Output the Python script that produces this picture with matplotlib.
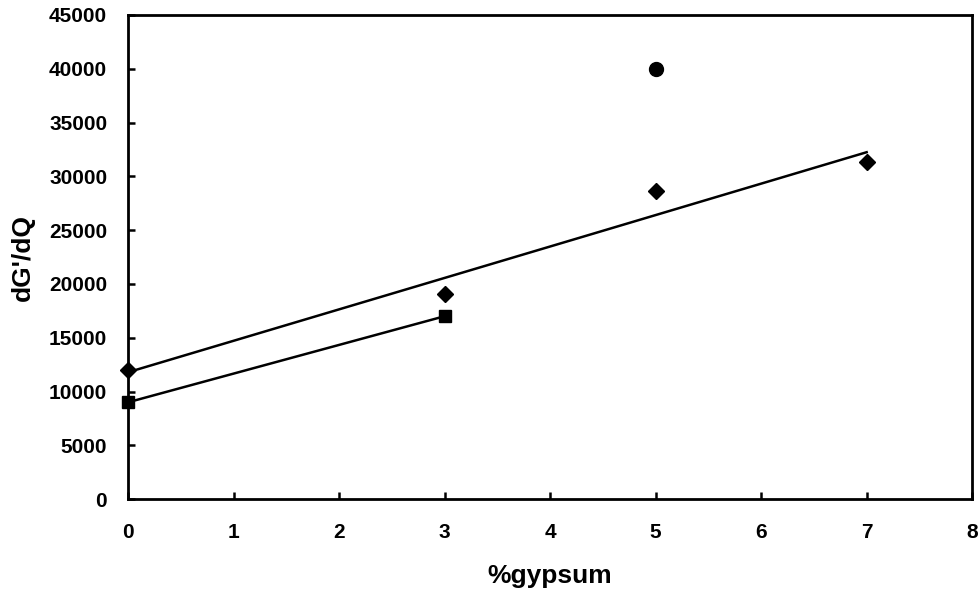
import matplotlib
matplotlib.use("Agg")
import matplotlib.pyplot as plt
import numpy as np

plt.rcParams["font.family"] = ["Liberation Sans", "DejaVu Sans"]
plt.rcParams["font.weight"] = "bold"

# diamond series (with linear trendline)
gyp_a = [0, 3, 5, 7]
dg_a = [12000, 19100, 28600, 31300]

# square series (two points joined)
gyp_b = [0, 3]
dg_b = [9000, 17000]

# single circle point
gyp_c = [5]
dg_c = [40000]

fig = plt.figure(figsize=(9.8, 5.9), dpi=100)
ax = fig.add_axes([0.1306, 0.154, 0.8614, 0.8206])

# trendline for diamond series
k, b = np.polyfit(gyp_a, dg_a, 1)
xs = np.array([min(gyp_a), max(gyp_a)])
ax.plot(xs, k * xs + b, color="black", lw=1.8, zorder=2)
ax.plot(gyp_a, dg_a, ls="none", marker="D", ms=8.5, color="black", zorder=3, clip_on=False)

ax.plot(gyp_b, dg_b, color="black", lw=1.8, marker="s", ms=8, zorder=3, clip_on=False)
ax.plot(gyp_c, dg_c, ls="none", marker="o", ms=10, color="black", zorder=3)

ax.set_xlim(0, 8)
ax.set_ylim(0, 45000)
ax.set_xticks(range(0, 9))
ax.set_yticks(range(0, 45001, 5000))

for s in ax.spines.values():
    s.set_linewidth(2)
ax.tick_params(direction="in", length=5, width=1.8, labelsize=15, top=False, right=False)
ax.tick_params(axis="x", pad=17)
ax.tick_params(axis="y", pad=15)
for lab in ax.get_xticklabels() + ax.get_yticklabels():
    lab.set_fontweight("bold")

ax.set_xlabel("%gypsum", fontsize=19, fontweight="bold", labelpad=16)
ax.set_ylabel("dG'/dQ", fontsize=19, fontweight="bold", labelpad=10)

fig.savefig("out.png", dpi=100)
